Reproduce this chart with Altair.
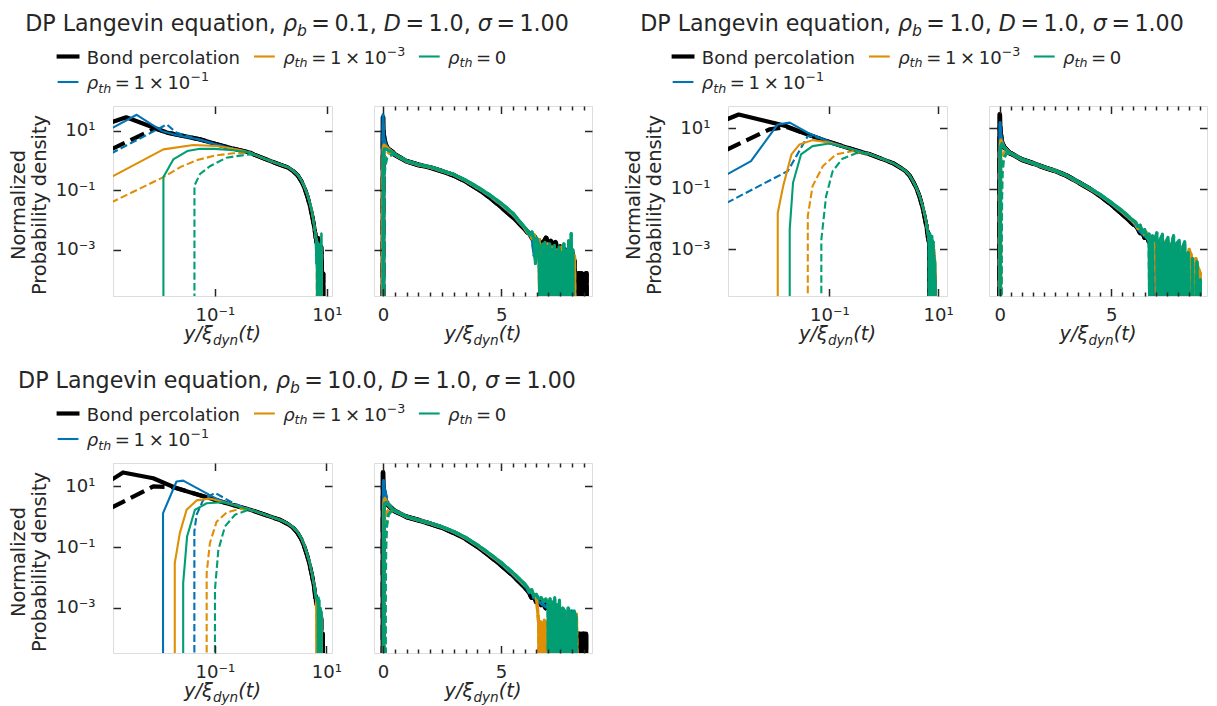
import altair as alt
import pandas as pd

FONT = "DejaVu Sans"
INK = "#262626"
FRAME = "#262626"
COLORS = {"bond": "#000000", "hi": "#0173B2", "mid": "#DE8F05", "zero": "#029E73"}

# ---------------- texts ----------------
TITLE_RHO_B = ["0.1", "1.0", "10.0"]
TITLE_D = "1.0"
TITLE_SIGMA = "1.00"
Y_TITLE = ["Normalized", "Probability density"]
LEGEND_BOND = "Bond percolation"
LEGEND_EXP = {"hi": "\u22121", "mid": "\u22123"}
LOG_X_TICKS = [0.1, 10]
LOG_X_LABELS = ["10\u207b\u00b9", "10\u00b9"]
LOG_Y_TICKS = [10, 0.1, 0.001]
LOG_Y_LABELS = ["10\u00b9", "10\u207b\u00b9", "10\u207b\u00b3"]
LIN_X_TICKS = [0, 5]
LIN_X_LABELS = ["0", "5"]
LIN_X_MINOR = [0.5, 1, 1.5, 2, 2.5, 3, 3.5, 4, 4.5, 5.5, 6, 6.5, 7, 7.5, 8, 8.5, 9]

# axis ranges per group
LOG_X_DOMAIN = [(0.00151, 12.3), (0.00136, 14.6), (0.00148, 12.6)]
LIN_X_DOMAIN = [(-0.38, 8.84), (-0.48, 9.3), (-0.38, 8.86)]
Y_DOMAIN = [(2.8e-5, 69.0), (2.9e-5, 55.0), (3.3e-5, 59.0)]

# ---------------- group 1 : rho_b = 0.1 ----------------
g1_bond_solid = [(0.0014, 19.3), (0.0026, 28.8), (0.0138, 8.8), (0.054, 5.2), (0.1, 3.7), (0.2, 2.6), (0.43, 1.85)]
g1_bond_dash = [(0.0014, 2.4), (0.0085, 12.0), (0.0138, 8.8), (0.054, 5.2), (0.1, 3.7), (0.2, 2.6), (0.43, 1.85)]
g1_hi_solid = [(0.0014, 12.0), (0.004, 35.0), (0.0112, 10.0), (0.02, 7.3), (0.054, 5.1), (0.1, 3.6), (0.2, 2.6), (0.43, 1.85)]
g1_hi_dash = [(0.0014, 1.75), (0.0138, 16.5), (0.0204, 8.8), (0.054, 5.0), (0.1, 3.55), (0.2, 2.55), (0.43, 1.82)]
g1_mid_solid = [(0.0014, 0.28), (0.012, 2.4), (0.041, 3.35), (0.107, 3.1), (0.28, 2.27), (0.43, 1.85)]
g1_mid_dash = [(0.0014, 0.039), (0.012, 0.28), (0.025, 0.63), (0.05, 1.07), (0.1, 1.48), (0.21, 1.78), (0.43, 1.8)]
g1_zero_solid = [(0.012, 0.0), (0.012, 0.28), (0.0138, 0.45), (0.018, 1.1), (0.032, 2.1), (0.054, 2.5), (0.1, 2.5), (0.21, 2.25), (0.43, 1.86)]
g1_zero_dash = [(0.043, 0.0), (0.043, 0.145), (0.054, 0.355), (0.081, 0.65), (0.16, 1.26), (0.28, 1.48), (0.43, 1.62)]

g1_tail_x = [0.5, 1.0, 1.5, 2.0, 2.5, 3.0, 3.5, 4.0, 4.5, 5.0, 5.5, 6.0]
g1_bond_tail = [1.6, 0.95, 0.72, 0.59, 0.44, 0.32, 0.2, 0.115, 0.06, 0.028, 0.0126, 0.005]
g1_hi_tail = [1.6, 0.95, 0.72, 0.6, 0.45, 0.33, 0.21, 0.12, 0.066, 0.033, 0.015, 0.0052]
g1_mid_tail = [1.6, 0.96, 0.73, 0.6, 0.45, 0.335, 0.215, 0.125, 0.07, 0.035, 0.016, 0.0054]
g1_zero_tail = [1.62, 0.97, 0.74, 0.61, 0.46, 0.34, 0.22, 0.13, 0.072, 0.037, 0.017, 0.0056]

g1_bond_noise = [(6.1, 4.0e-3), (6.2, 3.5e-3), (6.3, 2.5e-3), (6.4, 2.8e-3), (6.5, 1.8e-3), (6.6, 2.0e-3),
                 (6.7, 1.26e-3), (6.8, 1.8e-3), (6.9, 2.5e-3), (7.0, 1.26e-3), (7.1, 2.0e-3), (7.2, 1.0e-3),
                 (7.3, 1.8e-3), (7.4, 7.9e-4), (7.5, 1.26e-3), (7.6, 6.3e-4), (7.7, 1.0e-3), (7.8, 5.0e-4),
                 (7.9, 1.26e-3), (8.0, 7.9e-4), (8.1, 4.0e-4), (8.15, 0.0), (8.2, 1.6e-4), (8.25, 0.0),
                 (8.3, 1.6e-4), (8.35, 0.0), (8.4, 1.6e-4), (8.45, 0.0), (8.5, 1.5e-4), (8.55, 0.0),
                 (8.6, 1.6e-4), (8.62, 0.0)]
g1_hi_noise = [(6.1, 4.0e-3), (6.2, 3.2e-3), (6.3, 2.8e-3), (6.4, 6.3e-4), (6.5, 2.0e-3), (6.6, 1.6e-3),
               (6.7, 1.0e-3), (6.8, 0.0), (6.9, 1.26e-3), (7.0, 0.0), (7.1, 1.0e-3), (7.2, 0.0),
               (7.3, 7.9e-4), (7.4, 0.0), (7.5, 1.1e-3), (7.6, 0.0), (7.7, 6.3e-4), (7.8, 0.0),
               (7.9, 1.0e-3), (8.0, 0.0)]
g1_mid_noise = [(6.1, 4.0e-3), (6.2, 3.5e-3), (6.3, 2.5e-3), (6.4, 3.2e-3), (6.5, 1.6e-3), (6.6, 2.2e-3),
                (6.68, 0.0), (6.75, 1.26e-3), (6.85, 0.0), (6.95, 1.6e-3), (7.05, 0.0), (7.15, 1.26e-3),
                (7.25, 0.0), (7.35, 1.0e-3), (7.45, 0.0), (7.55, 1.26e-3), (7.65, 0.0), (7.75, 7.9e-4),
                (7.85, 0.0), (7.95, 1.26e-3), (8.05, 0.0), (8.1, 6.3e-4), (8.15, 0.0)]
g1_zero_noise = [(6.1, 4.5e-3), (6.2, 3.2e-3), (6.3, 4.0e-3), (6.4, 2.0e-3), (6.45, 3.5e-4), (6.5, 2.5e-3),
                 (6.6, 1.4e-3), (6.7, 0.0), (6.75, 1.6e-3), (6.8, 0.0), (6.85, 1.8e-3), (6.9, 0.0),
                 (6.95, 1.26e-3), (7.0, 0.0), (7.05, 1.6e-3), (7.1, 0.0), (7.15, 1.0e-3), (7.2, 0.0),
                 (7.25, 1.4e-3), (7.3, 0.0), (7.35, 8.9e-4), (7.4, 0.0), (7.45, 1.26e-3), (7.5, 0.0),
                 (7.55, 7.9e-4), (7.6, 0.0), (7.65, 1.6e-3), (7.7, 0.0), (7.75, 1.0e-3), (7.8, 0.0),
                 (7.85, 2.0e-3), (7.9, 0.0), (7.96, 3.5e-3), (8.0, 0.0), (8.03, 1.0e-3), (8.06, 0.0)]

# ---------------- group 2 : rho_b = 1.0 ----------------
g2_bond_solid = [(0.0013, 20.0), (0.00214, 28.8), (0.0162, 11.9), (0.0324, 7.2), (0.1, 3.55), (0.2, 2.4), (0.45, 1.53)]
g2_bond_dash = [(0.0013, 2.0), (0.0079, 9.3), (0.0162, 11.2), (0.0324, 7.2), (0.1, 3.55), (0.2, 2.4), (0.45, 1.53)]
g2_hi_solid = [(0.0013, 0.30), (0.0036, 0.83), (0.0112, 13.5), (0.0186, 15.5), (0.04, 7.2), (0.1, 3.6), (0.2, 2.4), (0.45, 1.53)]
g2_hi_dash = [(0.0013, 0.035), (0.0172, 0.39), (0.04, 5.6), (0.066, 4.8), (0.1, 3.6), (0.2, 2.4), (0.45, 1.53)]
g2_mid_solid = [(0.0112, 0.0), (0.0112, 0.016), (0.0141, 0.124), (0.02, 1.38), (0.0282, 2.95), (0.049, 4.1), (0.1, 3.4), (0.2, 2.35), (0.45, 1.52)]
g2_mid_dash = [(0.04, 0.0), (0.04, 0.0126), (0.049, 0.124), (0.076, 0.57), (0.132, 1.38), (0.27, 1.78), (0.45, 1.48)]
g2_zero_solid = [(0.0186, 0.0), (0.0186, 0.0046), (0.0214, 0.16), (0.03, 1.38), (0.049, 2.6), (0.1, 3.16), (0.27, 2.0), (0.45, 1.51)]
g2_zero_dash = [(0.071, 0.0), (0.071, 0.0021), (0.087, 0.058), (0.115, 0.39), (0.174, 1.0), (0.31, 1.51), (0.45, 1.48)]

g2_tail_x = [0.5, 1.0, 1.5, 2.0, 2.5, 3.0, 3.5, 4.0, 4.5, 5.0, 5.5, 6.0]
g2_bond_tail = [1.5, 0.93, 0.7, 0.51, 0.39, 0.275, 0.17, 0.105, 0.06, 0.031, 0.015, 0.0068]
g2_hi_tail = [1.5, 0.93, 0.7, 0.51, 0.39, 0.275, 0.17, 0.105, 0.062, 0.033, 0.017, 0.008]
g2_mid_tail = [1.5, 0.94, 0.7, 0.515, 0.395, 0.277, 0.172, 0.107, 0.064, 0.035, 0.018, 0.0085]
g2_zero_tail = [1.52, 0.95, 0.71, 0.52, 0.4, 0.28, 0.175, 0.11, 0.066, 0.036, 0.019, 0.009]

g2_bond_noise = [(6.1, 6.3e-3), (6.2, 5.0e-3), (6.3, 3.5e-3), (6.4, 4.0e-3), (6.5, 2.5e-3), (6.6, 2.8e-3),
                 (6.7, 1.8e-3), (6.8, 2.0e-3), (6.9, 1.26e-3), (6.98, 0.0), (7.05, 1.6e-3), (7.15, 1.0e-3),
                 (7.25, 1.4e-3), (7.35, 0.0), (7.45, 1.0e-3), (7.55, 7.9e-4), (7.65, 0.0), (7.75, 6.3e-4),
                 (7.85, 1.0e-3), (7.95, 0.0), (8.05, 5.0e-4), (8.15, 6.3e-4), (8.25, 0.0), (8.35, 3.2e-4),
                 (8.45, 0.0), (8.55, 1.26e-4), (8.6, 0.0), (8.65, 1.26e-4), (8.7, 0.0)]
g2_hi_noise = [(6.1, 6.3e-3), (6.2, 5.0e-3), (6.3, 4.0e-3), (6.4, 3.5e-3), (6.5, 2.8e-3), (6.6, 2.5e-3),
               (6.7, 2.0e-3), (6.8, 2.2e-3), (6.9, 1.4e-3), (7.02, 0.0), (7.1, 1.26e-3), (7.2, 1.0e-3),
               (7.3, 0.0), (7.4, 1.0e-3), (7.5, 7.1e-4), (7.6, 0.0), (7.7, 7.9e-4), (7.8, 5.0e-4),
               (7.9, 0.0), (8.0, 6.3e-4), (8.1, 0.0), (8.2, 4.0e-4), (8.3, 0.0)]
g2_mid_noise = [(6.1, 7.1e-3), (6.2, 5.0e-3), (6.3, 5.6e-3), (6.4, 4.0e-3), (6.5, 3.2e-3), (6.6, 3.5e-3),
                (6.7, 2.2e-3), (6.8, 2.5e-3), (6.9, 1.8e-3), (7.0, 2.5e-3), (7.1, 0.0), (7.2, 1.6e-3),
                (7.3, 2.2e-3), (7.4, 1.26e-3), (7.5, 0.0), (7.6, 1.6e-3), (7.7, 1.1e-3), (7.8, 0.0),
                (7.9, 1.4e-3), (8.0, 1.0e-3), (8.1, 0.0), (8.2, 1.26e-3), (8.3, 7.9e-4), (8.4, 0.0),
                (8.5, 1.0e-3), (8.6, 6.3e-4), (8.7, 0.0), (8.8, 5.0e-4), (8.9, 2.5e-4), (9.0, 1.6e-4),
                (9.02, 0.0)]
g2_zero_noise = [(6.1, 7.9e-3), (6.2, 5.6e-3), (6.3, 6.3e-3), (6.4, 3.5e-3), (6.5, 4.5e-3), (6.6, 2.5e-3),
                 (6.7, 3.2e-3), (6.78, 0.0), (6.85, 2.8e-3), (6.95, 2.0e-3), (7.05, 3.5e-3), (7.12, 0.0),
                 (7.2, 2.0e-3), (7.3, 3.2e-3), (7.38, 0.0), (7.45, 1.6e-3), (7.55, 2.5e-3), (7.62, 0.0),
                 (7.7, 1.26e-3), (7.8, 2.8e-3), (7.88, 0.0), (7.95, 1.6e-3), (8.05, 2.0e-3), (8.12, 0.0),
                 (8.2, 1.0e-3), (8.3, 1.8e-3), (8.38, 0.0), (8.45, 7.9e-4), (8.55, 0.0), (8.65, 5.0e-4),
                 (8.75, 0.0), (8.85, 4.0e-4), (8.95, 0.0), (9.0, 1.0e-4), (9.02, 0.0)]

# ---------------- group 3 : rho_b = 10.0 ----------------
g3_bond_solid = [(0.0014, 16.6), (0.00224, 28.8), (0.0078, 18.6), (0.0204, 8.7), (0.1, 3.63), (0.2, 2.5), (0.43, 1.7)]
g3_bond_dash = [(0.0014, 2.0), (0.0078, 10.0), (0.0178, 9.5), (0.1, 3.63), (0.2, 2.5), (0.43, 1.7)]
g3_hi_solid = [(0.0117, 0.0), (0.0117, 1.32), (0.0204, 14.5), (0.0269, 15.5), (0.071, 5.9), (0.1, 4.2), (0.2, 2.57), (0.43, 1.7)]
g3_hi_dash = [(0.0427, 0.0), (0.0427, 0.33), (0.0468, 1.17), (0.0617, 3.63), (0.1, 6.2), (0.214, 2.8), (0.43, 1.74)]
g3_mid_solid = [(0.019, 0.0), (0.019, 0.03), (0.0234, 0.29), (0.031, 1.7), (0.0468, 3.47), (0.081, 4.0), (0.214, 2.5), (0.43, 1.7)]
g3_mid_dash = [(0.071, 0.0), (0.071, 0.014), (0.081, 0.135), (0.107, 0.69), (0.162, 1.38), (0.28, 1.82), (0.43, 1.66)]
g3_zero_solid = [(0.0269, 0.0), (0.0269, 0.0066), (0.0316, 0.224), (0.0437, 1.7), (0.071, 2.8), (0.141, 3.0), (0.43, 1.7)]
g3_zero_dash = [(0.1, 0.0), (0.1, 0.004), (0.115, 0.081), (0.151, 0.48), (0.229, 1.17), (0.37, 1.62), (0.45, 1.58)]

g3_tail_x = [0.5, 1.0, 1.5, 2.0, 2.5, 3.0, 3.5, 4.0, 4.5, 5.0, 5.5, 6.0]
g3_bond_tail = [1.55, 1.0, 0.78, 0.59, 0.44, 0.3, 0.19, 0.105, 0.054, 0.026, 0.012, 0.005]
g3_hi_tail = [1.56, 1.0, 0.78, 0.6, 0.45, 0.315, 0.2, 0.112, 0.058, 0.029, 0.013, 0.0055]
g3_mid_tail = [1.57, 1.01, 0.785, 0.61, 0.46, 0.325, 0.205, 0.117, 0.06, 0.031, 0.014, 0.006]
g3_zero_tail = [1.58, 1.02, 0.79, 0.62, 0.47, 0.33, 0.21, 0.12, 0.063, 0.032, 0.0148, 0.0063]

g3_bond_noise = [(6.1, 4.0e-3), (6.2, 3.2e-3), (6.3, 2.2e-3), (6.4, 2.5e-3), (6.5, 1.6e-3), (6.6, 1.8e-3),
                 (6.7, 1.26e-3), (6.8, 1.4e-3), (6.9, 1.0e-3), (7.0, 1.26e-3), (7.1, 8.9e-4), (7.2, 1.0e-3),
                 (7.3, 7.9e-4), (7.4, 6.3e-4), (7.5, 7.9e-4), (7.6, 5.6e-4), (7.7, 7.1e-4), (7.8, 5.0e-4),
                 (7.9, 6.3e-4), (8.0, 5.0e-4), (8.1, 4.0e-4), (8.15, 0.0), (8.2, 1.4e-4), (8.25, 0.0),
                 (8.3, 1.4e-4), (8.35, 0.0), (8.4, 1.4e-4), (8.45, 0.0), (8.5, 1.4e-4), (8.55, 0.0),
                 (8.6, 1.4e-4), (8.62, 0.0)]
g3_hi_noise = [(6.1, 4.5e-3), (6.2, 3.2e-3), (6.3, 3.5e-3), (6.4, 2.2e-3), (6.5, 2.0e-3), (6.6, 1.6e-3),
               (6.8, 1.26e-3), (7.0, 1.0e-3), (7.2, 7.9e-4), (7.4, 0.0), (7.6, 8.9e-4), (7.8, 6.3e-4),
               (7.9, 0.0), (8.0, 7.9e-4), (8.1, 4.0e-4), (8.2, 0.0)]
g3_mid_noise = [(6.1, 5.0e-3), (6.2, 4.0e-3), (6.3, 3.5e-3), (6.4, 2.8e-3), (6.5, 2.5e-3), (6.6, 3.2e-4),
                (6.64, 0.0), (6.68, 3.5e-4), (6.72, 0.0), (6.76, 3.2e-4), (6.8, 0.0), (6.84, 4.0e-4),
                (6.88, 0.0), (6.92, 3.2e-4), (6.96, 0.0), (7.0, 4.0e-4), (7.04, 0.0), (7.2, 1.26e-3),
                (7.4, 1.0e-3), (7.6, 7.9e-4), (7.7, 0.0), (7.8, 6.3e-4), (7.9, 7.9e-4), (8.0, 0.0),
                (8.1, 5.0e-4), (8.2, 6.3e-4), (8.3, 0.0)]
g3_zero_noise = [(6.1, 5.0e-3), (6.2, 3.5e-3), (6.3, 4.0e-3), (6.4, 2.5e-3), (6.5, 2.8e-3), (6.6, 2.0e-3),
                 (6.7, 2.2e-3), (6.8, 1.6e-3), (6.9, 2.0e-3), (7.0, 1.4e-3), (7.03, 0.0), (7.08, 2.0e-3),
                 (7.13, 0.0), (7.18, 1.6e-3), (7.23, 0.0), (7.28, 2.2e-3), (7.33, 0.0), (7.38, 1.26e-3),
                 (7.43, 0.0), (7.48, 1.8e-3), (7.55, 0.0), (7.62, 1.0e-3), (7.7, 7.9e-4), (7.78, 0.0),
                 (7.85, 1.0e-3), (7.95, 6.3e-4), (8.02, 0.0), (8.1, 7.9e-4), (8.18, 5.0e-4), (8.22, 0.0)]

# ---------------- assembly ----------------
FLOOR = 1e-9  # empty bins: drawn to the bottom edge, as on matplotlib's clipped log axis
SERIES = [("bond", False), ("bond", True), ("hi", False), ("hi", True),
          ("mid", False), ("mid", True), ("zero", False), ("zero", True)]


def curve(head, tail_x, tail_y, noise):
    return list(head) + list(zip(tail_x, tail_y)) + list(noise)


CURVES = [
    [curve(g1_bond_solid, g1_tail_x, g1_bond_tail, g1_bond_noise),
     curve(g1_bond_dash, g1_tail_x, g1_bond_tail, g1_bond_noise),
     curve(g1_hi_solid, g1_tail_x, g1_hi_tail, g1_hi_noise),
     curve(g1_hi_dash, g1_tail_x, g1_hi_tail, g1_hi_noise),
     curve(g1_mid_solid, g1_tail_x, g1_mid_tail, g1_mid_noise),
     curve(g1_mid_dash, g1_tail_x, g1_mid_tail, g1_mid_noise),
     curve(g1_zero_solid, g1_tail_x, g1_zero_tail, g1_zero_noise),
     curve(g1_zero_dash, g1_tail_x, g1_zero_tail, g1_zero_noise)],
    [curve(g2_bond_solid, g2_tail_x, g2_bond_tail, g2_bond_noise),
     curve(g2_bond_dash, g2_tail_x, g2_bond_tail, g2_bond_noise),
     curve(g2_hi_solid, g2_tail_x, g2_hi_tail, g2_hi_noise),
     curve(g2_hi_dash, g2_tail_x, g2_hi_tail, g2_hi_noise),
     curve(g2_mid_solid, g2_tail_x, g2_mid_tail, g2_mid_noise),
     curve(g2_mid_dash, g2_tail_x, g2_mid_tail, g2_mid_noise),
     curve(g2_zero_solid, g2_tail_x, g2_zero_tail, g2_zero_noise),
     curve(g2_zero_dash, g2_tail_x, g2_zero_tail, g2_zero_noise)],
    [curve(g3_bond_solid, g3_tail_x, g3_bond_tail, g3_bond_noise),
     curve(g3_bond_dash, g3_tail_x, g3_bond_tail, g3_bond_noise),
     curve(g3_hi_solid, g3_tail_x, g3_hi_tail, g3_hi_noise),
     curve(g3_hi_dash, g3_tail_x, g3_hi_tail, g3_hi_noise),
     curve(g3_mid_solid, g3_tail_x, g3_mid_tail, g3_mid_noise),
     curve(g3_mid_dash, g3_tail_x, g3_mid_tail, g3_mid_noise),
     curve(g3_zero_solid, g3_tail_x, g3_zero_tail, g3_zero_noise),
     curve(g3_zero_dash, g3_tail_x, g3_zero_tail, g3_zero_noise)],
]


def frame(curves, linear):
    rows = []
    for k, pts in enumerate(curves):
        seq = ([(0.0, 0.0)] + pts) if linear else pts
        for i, (x, y) in enumerate(seq):
            rows.append({"s": k, "i": i, "x": x, "y": y if y > 0 else FLOOR})
    return pd.DataFrame(rows)


# ---------------- layout / style ----------------
LOG_W, LIN_W, H = 219, 218, 190
IN_GAP, GROUP_GAP, ROW_GAP = 42, 136, 167
TICK, MINOR = 7.5, 4.0
TITLE_SIZE, LABEL_SIZE, TICK_SIZE, LEG_SIZE = 22.2, 19.44, 18.06, 18.06
SCRIPT = 0.7
ONE = pd.DataFrame({"k": [0]})

ADV = {' ': 651, ',': 651, '.': 651, '/': 690, '(': 799, ')': 799, '=': 1716, '\u00d7': 1716,
       '\u2212': 1716, '\u2009': 410, 'B': 1405, 'D': 1577, 'L': 1141, 'N': 1532, 'P': 1235,
       'a': 1255, 'b': 1300, 'c': 1126, 'd': 1300, 'e': 1260, 'g': 1300, 'h': 1298, 'i': 569,
       'l': 569, 'n': 1298, 'o': 1253, 'p': 1300, 'q': 1300, 'r': 842, 't': 803, 'u': 1298,
       'v': 1212, 'y': 1212, '\u03c1': 1300, '\u03c3': 1300, '\u03be': 1150}


def tw(s, size):
    return sum(ADV.get(c, 1303 if c.isdigit() else 1200) for c in s) / 2048.0 * size


def piece_size(kind, size):
    return size * (SCRIPT if kind in ("sub", "sup") else 1.0)


def rich_width(pieces, size):
    return sum(tw(t, piece_size(k, size)) for t, k, _ in pieces)


def rich(pieces, x, y, size, center=False, drop=0.22, rise=0.42):
    if center:
        x = x - rich_width(pieces, size) / 2.0
    out = []
    for t, kind, italic in pieces:
        fs = piece_size(kind, size)
        dy = drop * size if kind == "sub" else (-rise * size if kind == "sup" else 0.0)
        body = t.lstrip(" \u2009")
        lead = tw(t[:len(t) - len(body)], fs)      # leading gaps become an offset
        props = dict(text=body.rstrip(" \u2009"), align="left", baseline="alphabetic", font=FONT,
                     fontSize=fs, color=INK)
        if italic:
            props["fontStyle"] = "italic"
        out.append(alt.Chart(ONE).mark_text(**props).encode(x=alt.value(x + lead), y=alt.value(y + dy)))
        x += tw(t, fs)
    return out


def label_expr(values, labels):
    expr = "''"
    for v, l in reversed(list(zip(values, labels))):
        expr = f"(abs(datum.value - {v}) < {abs(v) * 1e-6 + 1e-9}) ? '{l}' : {expr}"
    return expr


def axis(orient, values, labels=None, size=TICK, pad=0):
    kw = dict(orient=orient, values=values, tickSize=size, offset=-size, title=None, domain=False,
              grid=False, ticks=True, tickColor=FRAME, tickWidth=1.5, zindex=1)
    if labels is None:
        kw["labels"] = False
    else:
        kw.update(labelExpr=label_expr(values, labels), labelPadding=pad, labelFont=FONT,
                  labelFontSize=TICK_SIZE, labelColor=INK, labelFlush=False, labelOverlap=False)
        if orient == "bottom":
            kw.update(labelBaseline="alphabetic", labelAlign="center")
        else:
            kw.update(labelBaseline="middle", labelAlign="right")
    return alt.Axis(**kw)


TITLE_CX, TITLE_BASE = 184, -75
LEG_X0, LEG_BASE, LEG_LINE = -54.3, [-42.5, -17.0], [-49.5, -24.0]
HANDLE, HPAD, COLSP = 18.7, 9.4, 14.5
YT_X, YT_Y = [-88, -67], 99
XT_BASE = 44
X_TITLE = [("y/\u03be", "n", True), ("dyn", "sub", True), ("(t)", "n", True)]


def legend_label(key):
    if key == "bond":
        return [(LEGEND_BOND, "n", False)]
    if key == "zero":
        return [("\u03c1", "n", True), ("th", "sub", True), ("\u2009=\u20090", "n", False)]
    return [("\u03c1", "n", True), ("th", "sub", True), ("\u2009=\u20091\u2009\u00d7\u200910", "n", False),
            (LEGEND_EXP[key], "sup", False)]


def legend_layers():
    entries = [(0, 0, "bond"), (0, 1, "hi"), (1, 0, "mid"), (2, 0, "zero")]
    colw = {}
    for c, r, key in entries:
        colw[c] = max(colw.get(c, 0.0), rich_width(legend_label(key), LEG_SIZE))
    x0 = {0: LEG_X0}
    for c in (1, 2):
        x0[c] = x0[c - 1] + HANDLE + HPAD + colw[c - 1] + COLSP
    out = []
    for c, r, key in entries:
        xs = x0[c]
        out.append(alt.Chart(ONE).mark_rule(color=COLORS[key], strokeWidth=4.2 if key == "bond" else 2.1,
                                            strokeCap="square").encode(
            x=alt.value(xs), x2=alt.value(xs + HANDLE), y=alt.value(LEG_LINE[r])))
        out += rich(legend_label(key), xs + HANDLE + HPAD, LEG_BASE[r], LEG_SIZE)
    return out


def panel(g, linear):
    df = frame(CURVES[g], linear)
    W = LIN_W if linear else LOG_W
    if linear:
        lo, hi = LIN_X_DOMAIN[g]
        xs = alt.Scale(type="linear", domain=[lo, hi], nice=False, zero=False)
        minor = [v for v in LIN_X_MINOR if lo < v < hi]
        xaxes = [axis("bottom", LIN_X_TICKS, LIN_X_LABELS, pad=24), axis("top", LIN_X_TICKS),
                 axis("bottom", minor, size=MINOR), axis("top", minor, size=MINOR)]
        yaxes = [axis("left", LOG_Y_TICKS), axis("right", LOG_Y_TICKS)]
    else:
        xs = alt.Scale(type="log", domain=list(LOG_X_DOMAIN[g]), nice=False)
        xaxes = [axis("bottom", LOG_X_TICKS, LOG_X_LABELS, pad=24), axis("top", LOG_X_TICKS)]
        yaxes = [axis("left", LOG_Y_TICKS, LOG_Y_LABELS, pad=18), axis("right", LOG_Y_TICKS)]
    ys = alt.Scale(type="log", domain=list(Y_DOMAIN[g]), nice=False)
    layers = []
    for k, (key, dashed) in enumerate(SERIES):
        bond = key == "bond"
        width = (4.8 if bond else 3.2) if linear else (4.2 if bond else 2.1)
        props = dict(clip=True, color=COLORS[key], strokeWidth=width, strokeJoin="round",
                     strokeCap="butt" if dashed else "square")
        if dashed:
            props["strokeDash"] = [15, 6.5] if bond else [7.4, 3.2]
        layers.append(
            alt.Chart().transform_filter(alt.datum.s == k).mark_line(**props).encode(
                x=alt.X("x:Q", scale=xs, axis=xaxes[k] if k < len(xaxes) else None),
                y=alt.Y("y:Q", scale=ys, axis=yaxes[k] if k < len(yaxes) else None),
                order=alt.Order("i:Q"),
            ))
    if not linear:
        title = [("DP Langevin equation, ", "n", False), ("\u03c1", "n", True), ("b", "sub", True),
                 (f"\u2009=\u2009{TITLE_RHO_B[g]}, ", "n", False), ("D", "n", True),
                 (f"\u2009=\u2009{TITLE_D}, ", "n", False), ("\u03c3", "n", True),
                 (f"\u2009=\u2009{TITLE_SIGMA}", "n", False)]
        layers += rich(title, TITLE_CX, TITLE_BASE, TITLE_SIZE, center=True)
        layers += legend_layers()
        for j, line in enumerate(Y_TITLE):
            layers.append(alt.Chart(ONE).mark_text(text=line, align="center", baseline="alphabetic",
                                                   angle=270, font=FONT, fontSize=LABEL_SIZE,
                                                   color=INK).encode(x=alt.value(YT_X[j]), y=alt.value(YT_Y)))
    layers += rich(X_TITLE, W / 2.0, H + XT_BASE, LABEL_SIZE, center=True, drop=0.25)
    return alt.layer(*layers, data=df).resolve_axis(x="independent", y="independent").properties(
        width=W, height=H)


# empty column that widens the gap between the two upper groups
spacer = alt.Chart(ONE).mark_text(text="").encode(x=alt.value(0), y=alt.value(0)).properties(
    width=GROUP_GAP - 2 * IN_GAP, height=H, view=alt.ViewBackground(stroke=None))

cells = [panel(0, False), panel(0, True), spacer, panel(1, False), panel(1, True),
         panel(2, False), panel(2, True)]
chart = alt.concat(*cells, columns=5, spacing={"row": ROW_GAP, "column": IN_GAP}, bounds="flush").properties(
    padding={"top": 4, "left": 0, "right": 0, "bottom": 0}, background="white"
).configure_view(stroke=FRAME, strokeWidth=1.5).configure(font=FONT)

chart.save("out.html", embed_options={"renderer": "svg", "actions": False})
